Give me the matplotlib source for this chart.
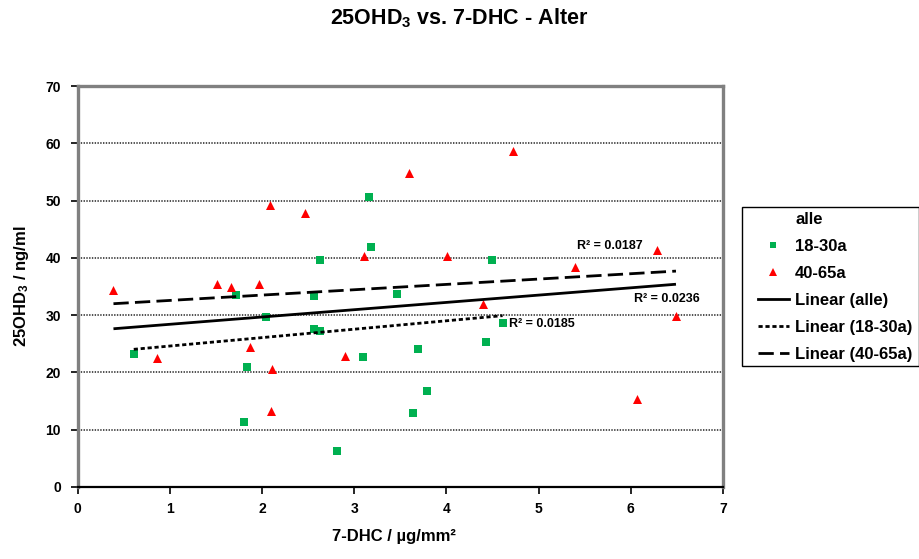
import numpy as np
import matplotlib
matplotlib.use("Agg")
from matplotlib import pyplot as plt
from matplotlib.lines import Line2D
from matplotlib.patches import Rectangle

plt.rcParams['font.family'] = ['Liberation Sans', 'DejaVu Sans']
plt.rcParams['font.weight'] = 'bold'
plt.rcParams['mathtext.fontset'] = 'custom'
plt.rcParams['mathtext.rm'] = 'Liberation Sans:bold'
plt.rcParams['mathtext.bf'] = 'Liberation Sans:bold'
plt.rcParams['mathtext.it'] = 'Liberation Sans:bold'
plt.rcParams['lines.scale_dashes'] = False

# 18-30a (green squares)
x_young = [0.61, 1.72, 1.84, 1.81, 2.04, 2.57, 2.63, 2.57, 2.63, 2.81,
           3.10, 3.16, 3.18, 3.46, 3.64, 3.69, 3.79, 4.43, 4.49, 4.61]
y_young = [23.3, 33.5, 20.9, 11.4, 29.6, 33.3, 39.7, 27.5, 27.2, 6.2,
           22.7, 50.6, 41.9, 33.7, 13.0, 24.1, 16.8, 25.3, 39.7, 28.7]

# 40-65a (red triangles)
x_old = [0.39, 0.86, 1.51, 1.67, 1.87, 1.97, 2.09, 2.10, 2.11, 2.47,
         2.90, 3.11, 3.60, 4.01, 4.40, 4.72, 5.40, 6.07, 6.28, 6.49]
y_old = [34.4, 22.6, 35.4, 35.0, 24.5, 35.4, 49.2, 13.3, 20.6, 47.9,
         22.9, 40.3, 54.9, 40.3, 31.9, 58.7, 38.4, 15.4, 41.4, 29.9]

r2_labels = ['R² = 0.0236', 'R² = 0.0185', 'R² = 0.0187']
r2_pos = [(6.03, 32.9), (4.68, 28.4), (5.42, 42.1)]

x_ticks = [0, 1, 2, 3, 4, 5, 6, 7]
y_ticks = [0, 10, 20, 30, 40, 50, 60, 70]

W, H = 919, 559
fig = plt.figure(figsize=(W / 100, H / 100), dpi=100)
ax = fig.add_axes([77.5 / W, 1 - 487 / H, (723 - 77.5) / W, (487 - 86) / H])

ax.scatter(x_young, y_young, marker='s', s=36, color='#00B050', zorder=3, linewidths=0)
ax.scatter(x_old, y_old, marker='^', s=42, color='#FF0000', zorder=3, linewidths=0)


def trend(xs, ys):
    xs = np.array(xs)
    k, d = np.polyfit(xs, ys, 1)
    xx = np.array([xs.min(), xs.max()])
    return xx, k * xx + d


x_all = x_young + x_old
y_all = y_young + y_old
xx, yy = trend(x_all, y_all)
ax.plot(xx, yy, color='black', lw=2.0, solid_capstyle='butt', zorder=4)
xx, yy = trend(x_young, y_young)
ax.plot(xx, yy, color='black', lw=2.0, dashes=(3, 2), zorder=4)
xx, yy = trend(x_old, y_old)
ax.plot(xx, yy, color='black', lw=2.0, dashes=(11, 4.5), zorder=4)

for lab, (px, py) in zip(r2_labels, r2_pos):
    ax.text(px, py, lab, fontsize=9, va='center', ha='left', zorder=5)

ax.set_xlim(0, 7)
ax.set_ylim(0, 70)
ax.set_xticks(x_ticks)
ax.set_yticks(y_ticks)
ax.tick_params(axis='both', direction='out', length=5, width=1.2, color='black',
               labelsize=10)
ax.tick_params(axis='x', pad=6)
ax.tick_params(axis='y', pad=7)
for lab in ax.get_xticklabels() + ax.get_yticklabels():
    lab.set_fontweight('bold')

ax.yaxis.grid(True, color='#333333', linestyle=(0, (1, 1)), linewidth=1.2)
ax.set_axisbelow(True)

for side in ['top', 'right', 'left']:
    ax.spines[side].set_color('#808080')
    ax.spines[side].set_linewidth(2.4)
ax.spines['bottom'].set_color('black')
ax.spines['bottom'].set_linewidth(1.6)

fig.text(0.5, 1 - 18 / H, '25OHD$_3$ vs. 7-DHC - Alter', ha='center', va='center',
         fontsize=15.5)
fig.text(394 / W, 22 / H, '7-DHC / µg/mm²', ha='center', va='center', fontsize=12)
fig.text(22 / W, 1 - 286 / H, '25OHD$_3$ / ng/ml', ha='center', va='center',
         fontsize=12, rotation=90)

# legend box
fig.patches.append(Rectangle((741.7 / W, 1 - 366 / H), (918.5 - 741.7) / W, (366 - 206.7) / H,
                             transform=fig.transFigure, fill=False, edgecolor='black', lw=1.0))

handles = [
    Line2D([], [], linestyle='none'),
    Line2D([], [], linestyle='none', marker='s', markersize=5, color='#00B050', markeredgewidth=0),
    Line2D([], [], linestyle='none', marker='^', markersize=6, color='#FF0000', markeredgewidth=0),
    Line2D([], [], color='black', lw=2.0),
    Line2D([], [], color='black', lw=2.0, dashes=(3, 2)),
    Line2D([], [], color='black', lw=2.0, dashes=(11, 4.5)),
]
labels = ['alle', '18-30a', '40-65a', 'Linear (alle)', 'Linear (18-30a)', 'Linear (40-65a)']
fig.legend(handles, labels, loc='upper left', bbox_to_anchor=(757.7 / W, 1 - 212 / H),
           frameon=False, fontsize=12, borderpad=0, handlelength=1.85, handletextpad=0.4,
           labelspacing=0.72, borderaxespad=0)

fig.savefig('out.png', dpi=100)
